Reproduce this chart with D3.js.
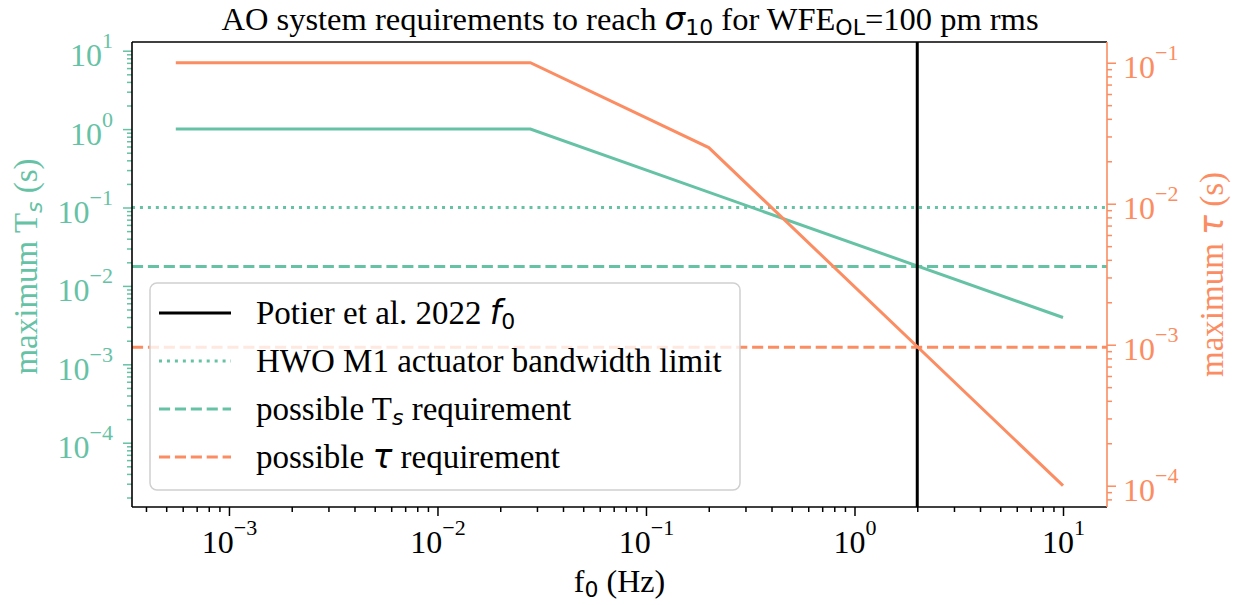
<!DOCTYPE html>
<html>
<head>
<meta charset="utf-8">
<script src="https://cdn.jsdelivr.net/npm/d3@7"></script>
<style>
  body { margin: 0; background: #fff; }
  svg { display: block; }
</style>
</head>
<body>
<script>
// AO system requirements chart (twin log axes)

// data
const freqTs = [5.56e-4, 0.0279, 10];          // Hz
const tsMax = [1, 1, 3.95e-3];                 // s
const freqTau = [5.56e-4, 0.0279, 0.2, 10];    // Hz
const tauMax = [0.1, 0.1, 0.025, 1e-4];        // s
const potierF0 = 2.0;
const hwoLimit = 0.1;
const tsReq = 0.0177;
const tauReq = 9.6e-4;

const xTicks = [1e-3, 1e-2, 1e-1, 1e0, 1e1];
const xTickExp = ["−3", "−2", "−1", "0", "1"];
const yLeftTicks = [1e-4, 1e-3, 1e-2, 1e-1, 1e0, 1e1];
const yLeftExp = ["−4", "−3", "−2", "−1", "0", "1"];
const yRightTicks = [1e-4, 1e-3, 1e-2, 1e-1];
const yRightExp = ["−4", "−3", "−2", "−1"];

const green = "#66c2a5";
const orange = "#fc8d62";
const serif = "'Liberation Serif', 'Times New Roman', serif";
const mathFont = "'DejaVu Sans', sans-serif";
const fs = 32, lfs = 33, sfs = 22;

let svgWidth = 1233, svgHeight = 605;
let plot = { left: 132, right: 1107, top: 42, bottom: 507 };

let svg = d3.select("body").append("svg")
    .attr("width", svgWidth)
    .attr("height", svgHeight)
    .style("font-family", serif);

// scales (limits include matplotlib-like 5% padding)
let x = d3.scaleLog().domain([Math.pow(10, -3.465), Math.pow(10, 1.211)]).range([plot.left, plot.right]);
let yL = d3.scaleLog().domain([Math.pow(10, -4.82), Math.pow(10, 1.111)]).range([plot.bottom, plot.top]);
let yR = d3.scaleLog().domain([Math.pow(10, -4.151), Math.pow(10, -0.853)]).range([plot.bottom, plot.top]);

function minorTicks(scale) {
    let [a, b] = scale.domain();
    let out = [];
    for (let d = Math.floor(Math.log10(a)); d <= Math.ceil(Math.log10(b)); d++) {
        for (let k = 2; k <= 9; k++) {
            let v = k * Math.pow(10, d);
            if (v >= a && v <= b) out.push(v);
        }
    }
    return out;
}

function powLabel(sel, exps, ticks) {
    sel.selectAll(".tick text").each(function(d) {
        let t = d3.select(this);
        let i = ticks.indexOf(d);
        t.text(null);
        t.append("tspan").text("10");
        t.append("tspan").attr("dy", "-18px").attr("font-size", sfs + "px").text(exps[i]);
    });
}

// data lines
let line = d3.line();
let plotG = svg.append("g");

plotG.append("line")
    .attr("x1", plot.left).attr("x2", plot.right)
    .attr("y1", yL(hwoLimit)).attr("y2", yL(hwoLimit))
    .attr("stroke", green).attr("stroke-width", 3)
    .attr("stroke-dasharray", "3,4.95");

plotG.append("line")
    .attr("x1", plot.left).attr("x2", plot.right)
    .attr("y1", yL(tsReq)).attr("y2", yL(tsReq))
    .attr("stroke", green).attr("stroke-width", 3)
    .attr("stroke-dasharray", "11.1,4.8");

plotG.append("path")
    .attr("d", line(freqTs.map((f, i) => [x(f), yL(tsMax[i])])))
    .attr("fill", "none").attr("stroke", green).attr("stroke-width", 3);

plotG.append("line")
    .attr("x1", x(potierF0)).attr("x2", x(potierF0))
    .attr("y1", plot.top).attr("y2", plot.bottom)
    .attr("stroke", "#000").attr("stroke-width", 3);

plotG.append("path")
    .attr("d", line(freqTau.map((f, i) => [x(f), yR(tauMax[i])])))
    .attr("fill", "none").attr("stroke", orange).attr("stroke-width", 3);

plotG.append("line")
    .attr("x1", plot.left).attr("x2", plot.right)
    .attr("y1", yR(tauReq)).attr("y2", yR(tauReq))
    .attr("stroke", orange).attr("stroke-width", 3)
    .attr("stroke-dasharray", "11.1,4.8");

// axes: major ticks with labels, minor ticks in their own groups
let xAxis = svg.append("g")
    .attr("transform", `translate(0, ${plot.bottom})`)
    .call(d3.axisBottom(x).tickValues(xTicks).tickSize(9).tickPadding(14));
let xMinor = svg.append("g")
    .attr("transform", `translate(0, ${plot.bottom})`)
    .call(d3.axisBottom(x).tickValues(minorTicks(x)).tickSize(5).tickFormat(""));

let leftAxis = svg.append("g")
    .attr("transform", `translate(${plot.left}, 0)`)
    .call(d3.axisLeft(yL).tickValues(yLeftTicks).tickSize(9).tickPadding(10));
let leftMinor = svg.append("g")
    .attr("transform", `translate(${plot.left}, 0)`)
    .call(d3.axisLeft(yL).tickValues(minorTicks(yL)).tickSize(5).tickFormat(""));

let rightAxis = svg.append("g")
    .attr("transform", `translate(${plot.right}, 0)`)
    .call(d3.axisRight(yR).tickValues(yRightTicks).tickSize(9).tickPadding(7));
let rightMinor = svg.append("g")
    .attr("transform", `translate(${plot.right}, 0)`)
    .call(d3.axisRight(yR).tickValues(minorTicks(yR)).tickSize(5).tickFormat(""));

[xAxis, leftAxis, rightAxis, xMinor, leftMinor, rightMinor].forEach(a => {
    a.selectAll(".domain").remove();
    a.selectAll("text").attr("font-family", serif).attr("font-size", fs + "px");
    a.selectAll("line").attr("stroke-width", 1.5);
});
[xMinor, leftMinor, rightMinor].forEach(a => a.selectAll("text").remove());
powLabel(xAxis, xTickExp, xTicks);
powLabel(leftAxis, yLeftExp, yLeftTicks);
powLabel(rightAxis, yRightExp, yRightTicks);
leftAxis.selectAll(".tick text").attr("dy", "15px");
rightAxis.selectAll(".tick text").attr("dy", "15px");
xAxis.selectAll("line").attr("stroke", "#000");
xMinor.selectAll("line").attr("stroke", "#000");
leftAxis.selectAll("line").attr("stroke", green);
leftMinor.selectAll("line").attr("stroke", green);
leftAxis.selectAll("text").attr("fill", green);
rightAxis.selectAll("line").attr("stroke", orange);
rightMinor.selectAll("line").attr("stroke", orange);
rightAxis.selectAll("text").attr("fill", orange);

// spines
let spines = svg.append("g").attr("stroke-width", 1.6);
spines.append("line").attr("x1", plot.left).attr("x2", plot.right).attr("y1", plot.top).attr("y2", plot.top).attr("stroke", "#000");
spines.append("line").attr("x1", plot.left).attr("x2", plot.right).attr("y1", plot.bottom).attr("y2", plot.bottom).attr("stroke", "#000");
spines.append("line").attr("x1", plot.left).attr("x2", plot.left).attr("y1", plot.top).attr("y2", plot.bottom).attr("stroke", "#000");
spines.append("line").attr("x1", plot.right).attr("x2", plot.right).attr("y1", plot.top).attr("y2", plot.bottom).attr("stroke", orange);

// title
let title = svg.append("text")
    .attr("x", 630).attr("y", 30)
    .attr("text-anchor", "middle").attr("font-size", "32.5px");
title.append("tspan").text("AO system requirements to reach ");
title.append("tspan").attr("font-family", mathFont).attr("font-style", "italic").text("σ");
title.append("tspan").attr("font-family", mathFont).attr("font-size", sfs + "px").attr("dy", 5).text("10");
title.append("tspan").attr("dy", -5).text(" for WFE");
title.append("tspan").attr("font-family", mathFont).attr("font-size", sfs + "px").attr("dy", 5).text("OL");
title.append("tspan").attr("dy", -5).text("=100 pm rms");

// axis labels
let xLabel = svg.append("text")
    .attr("x", (plot.left + plot.right) / 2).attr("y", 592)
    .attr("text-anchor", "middle").attr("font-size", fs + "px");
xLabel.append("tspan").text("f");
xLabel.append("tspan").attr("font-family", mathFont).attr("font-size", sfs + "px").attr("dy", 5).text("0");
xLabel.append("tspan").attr("dy", -5).text(" (Hz)");

let yLabel = svg.append("text")
    .attr("transform", `translate(37, ${(plot.top + plot.bottom) / 2 - 8}) rotate(-90)`)
    .attr("text-anchor", "middle").attr("font-size", lfs + "px").attr("fill", green);
yLabel.append("tspan").text("maximum T");
yLabel.append("tspan").attr("font-family", mathFont).attr("font-style", "italic").attr("font-size", sfs + "px").attr("dy", 5).text("s");
yLabel.append("tspan").attr("dy", -5).text(" (s)");

let y2Label = svg.append("text")
    .attr("transform", `translate(1223, ${(plot.top + plot.bottom) / 2}) rotate(-90)`)
    .attr("text-anchor", "middle").attr("font-size", lfs + "px").attr("fill", orange);
y2Label.append("tspan").text("maximum ");
y2Label.append("tspan").attr("font-family", mathFont).attr("font-style", "italic").text("τ");
y2Label.append("tspan").text(" (s)");

// legend
let legend = svg.append("g");
legend.append("rect")
    .attr("x", 150).attr("y", 283).attr("width", 590).attr("height", 207)
    .attr("rx", 7).attr("fill", "#fff").attr("fill-opacity", 0.8)
    .attr("stroke", "#d0d0d0").attr("stroke-width", 1.5);

let legendItems = [
    { color: "#000", dash: null, parts: [["Potier et al. 2022 ", {}], ["f", { math: true, italic: true }], ["0", { math: true, sub: true }]] },
    { color: green, dash: "3,4.95", parts: [["HWO M1 actuator bandwidth limit", {}]] },
    { color: green, dash: "11.1,4.8", parts: [["possible T", {}], ["s", { math: true, italic: true, sub: true }], [" requirement", {}]] },
    { color: orange, dash: "11.1,4.8", parts: [["possible ", {}], ["τ", { math: true, italic: true }], [" requirement", {}]] }
];

legendItems.forEach((item, i) => {
    let cy = 313 + i * 48;
    legend.append("line")
        .attr("x1", 159).attr("x2", 231).attr("y1", cy).attr("y2", cy)
        .attr("stroke", item.color).attr("stroke-width", 3)
        .attr("stroke-dasharray", item.dash);
    let t = legend.append("text").attr("x", 256).attr("y", cy + 11).attr("font-size", lfs + "px");
    let shifted = false;
    item.parts.forEach(([s, o]) => {
        let sp = t.append("tspan").text(s);
        if (o.math) sp.attr("font-family", mathFont);
        if (o.italic) sp.attr("font-style", "italic");
        if (o.sub) { sp.attr("font-size", sfs + "px").attr("dy", 5); shifted = true; }
        else if (shifted) { sp.attr("dy", -5); shifted = false; }
    });
});
</script>
</body>
</html>
